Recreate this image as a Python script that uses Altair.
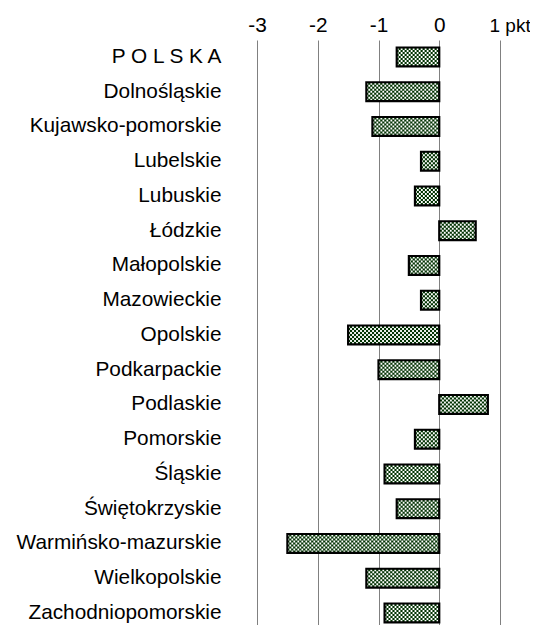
import altair as alt
import pandas as pd

regions = [
    "P O L S K A", "Dolnośląskie", "Kujawsko-pomorskie", "Lubelskie", "Lubuskie",
    "Łódzkie", "Małopolskie", "Mazowieckie", "Opolskie", "Podkarpackie",
    "Podlaskie", "Pomorskie", "Śląskie", "Świętokrzyskie", "Warmińsko-mazurskie",
    "Wielkopolskie", "Zachodniopomorskie",
]
values = [-0.7, -1.2, -1.1, -0.3, -0.4, 0.6, -0.5, -0.3, -1.5, -1.0,
          0.8, -0.4, -0.9, -0.7, -2.5, -1.2, -0.9]
tick_values = [-3, -2, -1, 0, 1]

df = pd.DataFrame({"region": regions, "value": values})

FONT = "Liberation Sans"
FS = 20.8
DARK = "#033303"

y_enc = alt.Y(
    "region:N", sort=None, title=None,
    scale=alt.Scale(paddingInner=0.455, paddingOuter=0.145, align=0.745),
    axis=alt.Axis(domain=False, ticks=False, grid=False, labelPadding=36,
                  labelFontSize=FS, labelFont=FONT, labelColor="black",
                  labelLimit=400),
)
x_enc = alt.X(
    "value:Q", title=None,
    scale=alt.Scale(domain=[-3, 1], nice=False, zero=False),
    axis=alt.Axis(orient="top", values=tick_values, domain=False, ticks=False,
                  grid=True, gridColor="#808080", gridWidth=1,
                  labelPadding=4.5, labelFont=FONT, labelColor="black",
                  labelExpr="datum.value == 1 ? '1 pkt' : toString(datum.value)",
                  labelFontSize={"condition": {"test": "datum.value == 1", "value": 19},
                                 "value": FS},
                  labelAlign={"condition": {"test": "datum.value == 1", "value": "left"},
                              "value": "center"},
                  labelOffset={"condition": {"test": "datum.value == 1", "value": -11},
                               "value": 0}),
)

base = alt.Chart(df)

fill = base.mark_bar(color=DARK, strokeWidth=0).encode(x=x_enc, y=y_enc)

layers = [fill]
cell = 2
offsets = [-8, -6, -4, -2, 0, 2, 4, 6, 8]
for i, off in enumerate(offsets):
    layers.append(
        base.mark_rule(color="white", strokeWidth=cell, strokeDash=[1.8, 2.2],
                       strokeDashOffset=(cell if i % 2 else 0), yOffset=off,
                       strokeCap="butt")
        .encode(x=x_enc, x2=alt.X2(datum=0), y=y_enc)
    )

outline = base.mark_bar(fillOpacity=0, stroke="black", strokeWidth=2.2).encode(x=x_enc, y=y_enc)
layers.append(outline)

chart = alt.layer(*layers).properties(
    width=243, height=585,
    autosize=alt.AutoSizeParams(type="none"),
    padding={"left": 249, "top": 32, "right": 30, "bottom": 0},
).configure_view(stroke=None)

chart.save("out.html", embed_options={"renderer": "svg", "actions": False})
